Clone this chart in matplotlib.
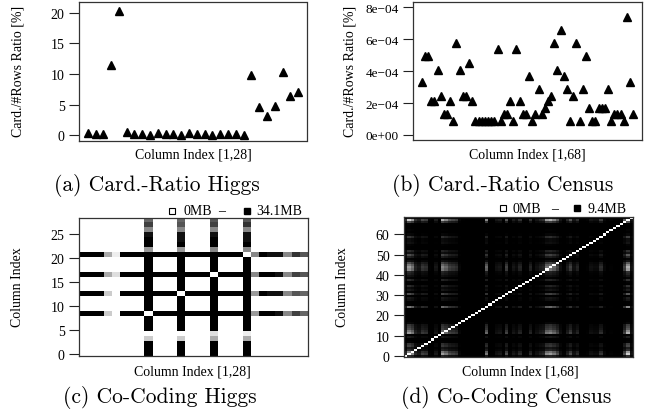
import numpy as np
import matplotlib.pyplot as plt
from matplotlib.ticker import FuncFormatter

plt.rcParams['font.family'] = ['Liberation Serif', 'DejaVu Serif']

W, H = 649, 414

# (a) Card./#Rows ratio per column, Higgs [%]
higgs_ratio = [0.3, 0.15, 0.15, 11.5, 20.3, 0.5, 0.15, 0.15, 0.1, 0.4,
               0.15, 0.15, 0.1, 0.3, 0.15, 0.15, 0.1, 0.25, 0.15, 0.15,
               0.1, 9.8, 4.6, 3.2, 4.8, 10.4, 6.4, 7.1]

# (b) Card./#Rows ratio per column, Census [%, in units of 1e-04]
census_ratio_e4 = [3.33, 4.95, 4.95, 2.1, 2.1, 4.1, 2.47, 1.29, 1.29, 2.1,
                   0.86, 5.76, 4.1, 2.47, 2.47, 4.53, 2.1, 0.86, 0.86, 0.86,
                   0.86, 0.86, 0.86, 0.86, 5.36, 0.86, 1.29, 1.29, 2.1, 0.86,
                   5.36, 2.1, 1.29, 1.29, 3.7, 0.86, 1.29, 2.9, 1.29, 1.68,
                   2.1, 2.47, 5.76, 4.1, 6.6, 3.7, 2.9, 0.86, 2.47, 5.76,
                   0.86, 2.9, 4.95, 1.68, 0.86, 0.86, 1.68, 1.68, 1.68, 2.9,
                   0.86, 1.29, 1.29, 1.29, 0.86, 7.38, 3.33, 1.29]

# (c) co-coding size [MB], Higgs: only a few columns pair with the others
higgs_max_mb = 34.1
higgs_pair_cols = [8, 12, 16, 20]
cc_col8 = [34.1, 34.1, 34.1, 6.8, 0.0, 34.1, 34.1, 34.1, 0.0, 34.1,
           34.1, 34.1, 34.1, 34.1, 34.1, 34.1, 34.1, 34.1, 34.1, 34.1,
           34.1, 13.6, 34.1, 34.1, 31.8, 16.0, 25.5, 20.5]
cc_col12 = [34.1, 34.1, 34.1, 6.8, 0.0, 34.1, 34.1, 34.1, 34.1, 34.1,
            34.1, 34.1, 0.0, 34.1, 34.1, 34.1, 34.1, 34.1, 34.1, 34.1,
            34.1, 13.6, 34.1, 31.8, 31.8, 16.0, 22.7, 20.5]
cc_col16 = [34.1, 34.1, 34.1, 11.4, 4.5, 34.1, 34.1, 34.1, 34.1, 34.1,
            34.1, 34.1, 34.1, 34.1, 34.1, 34.1, 0.0, 34.1, 34.1, 34.1,
            34.1, 16.0, 34.1, 34.1, 31.8, 16.0, 25.5, 22.7]
cc_col20 = [34.1, 34.1, 34.1, 11.4, 2.3, 34.1, 34.1, 34.1, 34.1, 34.1,
            34.1, 34.1, 34.1, 34.1, 34.1, 34.1, 34.1, 34.1, 34.1, 34.1,
            0.0, 16.0, 34.1, 31.8, 31.8, 16.0, 27.2, 22.7]

# (d) co-coding Census: per-column "lightness" (small co-coding size), 0..1
census_max_mb = 9.4
census_light = [0.2, 0.85, 0.64, 0.2, 0.12, 0.3, 0.25, 0.02, 0.01, 0.12,
                0.01, 0.72, 0.56, 0.36, 0.3, 0.25, 0.04, 0.01, 0.0, 0.0,
                0.0, 0.0, 0.0, 0.01, 0.56, 0.01, 0.01, 0.09, 0.12, 0.01,
                0.36, 0.02, 0.12, 0.06, 0.2, 0.01, 0.02, 0.2, 0.02, 0.09,
                0.16, 0.2, 0.64, 0.72, 0.56, 0.36, 0.09, 0.02, 0.16, 0.36,
                0.09, 0.2, 0.01, 0.01, 0.02, 0.09, 0.06, 0.06, 0.25, 0.04,
                0.01, 0.02, 0.01, 0.01, 0.02, 0.36, 0.95, 0.09]


def add_ax(l, t, r, b):
    return fig.add_axes([l / W, 1 - b / H, (r - l) / W, (b - t) / H])


def style(ax, size=10):
    ax.set_xticks([])
    ax.tick_params(axis='y', direction='out', length=7.5, width=0.8,
                   pad=3, labelsize=size, color='#222')
    for s in ax.spines.values():
        s.set_linewidth(0.9)
        s.set_color('#333')


def ftext(x, y, s, **kw):
    fig.text(x / W, 1 - y / H, s, ha='center', va='center', **kw)


fig = plt.figure(figsize=(W / 100, H / 100), dpi=100)

# ---- (a)
ax = add_ax(79.3, 2.7, 306.5, 141.7)
n = len(higgs_ratio)
ax.plot(np.arange(1, n + 1), higgs_ratio, '^', color='black', ms=6)
ax.set_xlim(1 - 0.04 * (n - 1), n + 0.04 * (n - 1))
ax.set_ylim(-0.9, 21.8)
ax.set_yticks([0, 5, 10, 15, 20])
style(ax)
ftext(18, 71, 'Card./#Rows Ratio [%]', rotation=90, fontsize=10)
ftext(193, 155, 'Column Index [1,28]', fontsize=10)
ftext(157, 186, '(a) Card.-Ratio Higgs', family='cmr10', fontsize=15.5)

# ---- (b)
ax = add_ax(413.3, 2.7, 641.7, 140.7)
n = len(census_ratio_e4)
ax.plot(np.arange(1, n + 1), np.array(census_ratio_e4) * 1e-4, '^',
        color='black', ms=6)
ax.set_xlim(1 - 0.04 * (n - 1), n + 0.04 * (n - 1))
ax.set_ylim(-0.3e-4, 8.35e-4)
ax.set_yticks([0, 2e-4, 4e-4, 6e-4, 8e-4])
ax.yaxis.set_major_formatter(FuncFormatter(
    lambda v, p: '%de\u221204' % round(v * 1e4) if v else '0e+00'))
style(ax, size=9.5)
ftext(350, 71, 'Card./#Rows Ratio [%]', rotation=90, fontsize=10)
ftext(527, 155, 'Column Index [1,68]', fontsize=10)
ftext(503, 186, '(b) Card.-Ratio Census', family='cmr10', fontsize=15.5)

# ---- (c)
ax = add_ax(79.3, 218.7, 308, 357)
n = len(cc_col8)
M = np.zeros((n, n))
for c, prof in zip(higgs_pair_cols, [cc_col8, cc_col12, cc_col16, cc_col20]):
    M[:, c] = prof
    M[c, :] = prof
ax.imshow(M, cmap='gray_r', vmin=0, vmax=higgs_max_mb, origin='lower',
          interpolation='nearest', aspect='auto',
          extent=(-0.5, n - 0.5, -0.5, n + 0.5))
ax.set_ylim(-0.5, n + 0.5)
ax.set_yticks([0, 5, 10, 15, 20, 25])
style(ax)
ftext(18, 287, 'Column Index', rotation=90, fontsize=10)
ftext(192, 372, 'Column Index [1,28]', fontsize=10)
ftext(160, 398, '(c) Co-Coding Higgs', family='cmr10', fontsize=15.5)
ax.plot([0.404], [1.051], 's', ms=5, mfc='white', mec='black', mew=0.8,
        transform=ax.transAxes, clip_on=False)
ax.text(0.455, 1.051, '0MB', transform=ax.transAxes, fontsize=10,
        va='center', ha='left')
ax.text(0.623, 1.051, '\u2013', transform=ax.transAxes, fontsize=10,
        va='center', ha='center')
ax.plot([0.732], [1.051], 's', ms=5, color='black',
        transform=ax.transAxes, clip_on=False)
ax.text(0.775, 1.051, '%.1fMB' % higgs_max_mb, transform=ax.transAxes,
        fontsize=10, va='center', ha='left')

# ---- (d)
ax = add_ax(404, 218, 633, 358)
a = np.array(census_light)
n = len(a)
D = census_max_mb * (1 - np.outer(a, a))
np.fill_diagonal(D, 0)
ax.imshow(D, cmap='gray_r', vmin=0, vmax=census_max_mb, origin='lower',
          interpolation='nearest', aspect='auto',
          extent=(-0.5, n - 0.5, -0.5, n + 0.5))
ax.set_ylim(-0.5, n + 0.5)
ax.set_yticks([0, 10, 20, 30, 40, 50, 60])
style(ax)
ftext(343, 287, 'Column Index', rotation=90, fontsize=10)
ftext(520, 372, 'Column Index [1,68]', fontsize=10)
ftext(506, 398, '(d) Co-Coding Census', family='cmr10', fontsize=15.5)
ax.plot([0.432], [1.062], 's', ms=5, mfc='white', mec='black', mew=0.8,
        transform=ax.transAxes, clip_on=False)
ax.text(0.474, 1.062, '0MB', transform=ax.transAxes, fontsize=10,
        va='center', ha='left')
ax.text(0.659, 1.062, '\u2013', transform=ax.transAxes, fontsize=10,
        va='center', ha='center')
ax.plot([0.755], [1.062], 's', ms=5, color='black',
        transform=ax.transAxes, clip_on=False)
ax.text(0.8, 1.062, '%.1fMB' % census_max_mb, transform=ax.transAxes,
        fontsize=10, va='center', ha='left')

fig.savefig('out.png', dpi=100)
